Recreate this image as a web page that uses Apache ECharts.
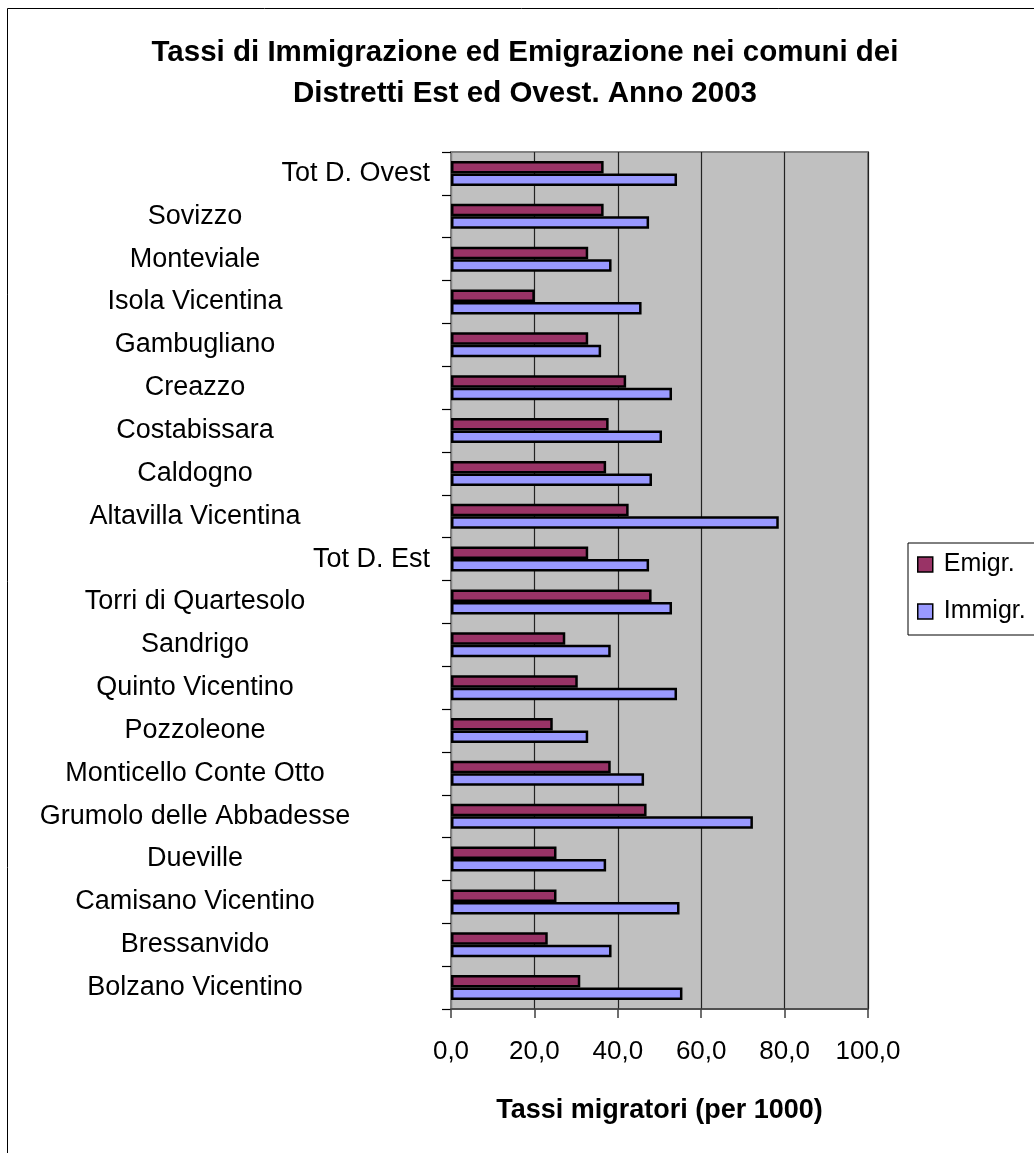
<!DOCTYPE html>
<html>
<head>
<meta charset="utf-8">
<title>Tassi migratori 2003</title>
<script src="https://cdn.jsdelivr.net/npm/echarts@6/dist/echarts.min.js"></script>
<style>
  html, body { margin: 0; padding: 0; background: #fff; }
  #chart { width: 1034px; height: 1153px; }
</style>
</head>
<body>
<div id="chart"></div>
<script>
// Comuni, listed top to bottom as they appear on the axis
const comuni = [
  'Tot D. Ovest', 'Sovizzo', 'Monteviale', 'Isola Vicentina', 'Gambugliano',
  'Creazzo', 'Costabissara', 'Caldogno', 'Altavilla Vicentina', 'Tot D. Est',
  'Torri di Quartesolo', 'Sandrigo', 'Quinto Vicentino', 'Pozzoleone',
  'Monticello Conte Otto', 'Grumolo delle Abbadesse', 'Dueville',
  'Camisano Vicentino', 'Bressanvido', 'Bolzano Vicentino'
];

// Tassi per 1000 abitanti
const emigr = [
  36.6, 36.6, 32.9, 20.1, 32.9,
  42.0, 37.8, 37.2, 42.6, 32.9,
  48.1, 27.4, 30.4, 24.4,
  38.3, 46.9, 25.3,
  25.3, 23.2, 31.0
];
const immigr = [
  54.2, 47.5, 38.5, 45.7, 36.0,
  53.0, 50.6, 48.2, 78.6, 47.5,
  53.0, 38.3, 54.2, 32.9,
  46.3, 72.4, 37.2,
  54.8, 38.5, 55.5
];

const xTicks = [0, 20, 40, 60, 80, 100];

const FONT = '"Liberation Sans", Arial, sans-serif';

const chart = echarts.init(document.getElementById('chart'), null, { renderer: 'canvas' });

chart.setOption({
  backgroundColor: '#ffffff',
  animation: false,
  title: {
    text: 'Tassi di Immigrazione ed Emigrazione nei comuni dei\nDistretti Est ed Ovest. Anno 2003',
    left: 525,
    top: 32,
    padding: 0,
    textAlign: 'center',
    textStyle: {
      fontFamily: FONT,
      fontSize: 29.5,
      fontWeight: 'bold',
      lineHeight: 41,
      color: '#000'
    }
  },
  legend: {
    orient: 'vertical',
    left: 908,
    top: 543,
    padding: [9, 14, 11, 9],
    itemGap: 22,
    itemWidth: 15,
    itemHeight: 15,
    borderColor: '#000',
    borderWidth: 1,
    backgroundColor: '#fff',
    icon: 'rect',
    itemStyle: { borderColor: '#000', borderWidth: 1.5 },
    textStyle: {
      fontFamily: FONT,
      fontSize: 25,
      color: '#000',
      padding: [0, 0, 0, 6]
    },
    data: ['Emigr.', 'Immigr.']
  },
  grid: {
    left: 451,
    top: 152,
    width: 417,
    height: 857,
    show: true,
    backgroundColor: '#C0C0C0',
    borderColor: '#808080',
    borderWidth: 2,
    containLabel: false
  },
  xAxis: {
    type: 'value',
    min: xTicks[0],
    max: xTicks[xTicks.length - 1],
    interval: 20,
    name: 'Tassi migratori (per 1000)',
    nameLocation: 'middle',
    nameGap: 88,
    nameTextStyle: {
      fontFamily: FONT,
      fontSize: 27,
      fontWeight: 'bold',
      color: '#000'
    },
    axisLine: { show: true, lineStyle: { color: '#404040', width: 1.5 } },
    axisTick: { show: true, length: 9, lineStyle: { color: '#404040', width: 1.5 } },
    axisLabel: {
      margin: 30,
      fontFamily: FONT,
      fontSize: 26,
      color: '#000',
      formatter: v => v.toFixed(1).replace('.', ',')
    },
    splitLine: { show: true, lineStyle: { color: '#222', width: 1.2 } }
  },
  yAxis: {
    type: 'category',
    inverse: true,
    data: comuni,
    axisLine: { show: true, lineStyle: { color: '#808080', width: 2 } },
    axisTick: { show: true, length: 9, interval: 0, lineStyle: { color: '#000', width: 1.2 } },
    axisLabel: {
      interval: 0,
      margin: 21,
      color: '#000',
      fontFamily: FONT,
      fontSize: 27,
      formatter: name => name.indexOf('Tot') === 0 ? '{r|' + name + '}' : '{c|' + name + '}',
      rich: {
        c: { width: 470, align: 'center', fontFamily: FONT, fontSize: 27, color: '#000' },
        r: { width: 470, align: 'right', fontFamily: FONT, fontSize: 27, color: '#000' }
      }
    },
    splitLine: { show: false }
  },
  series: [
    {
      name: 'Emigr.',
      type: 'bar',
      data: emigr,
      barWidth: 12.5,
      barGap: '0%',
      itemStyle: { color: '#993366', borderColor: '#000', borderWidth: 2.5 }
    },
    {
      name: 'Immigr.',
      type: 'bar',
      data: immigr,
      barWidth: 12.5,
      barGap: '0%',
      itemStyle: { color: '#9999FF', borderColor: '#000', borderWidth: 2.5 }
    }
  ],
  graphic: [
    {
      type: 'rect',
      silent: true,
      z: -1,
      shape: { x: 7.5, y: 8.5, width: 1100, height: 1200 },
      style: { fill: 'none', stroke: '#000', lineWidth: 1 }
    }
  ]
});
</script>
</body>
</html>
